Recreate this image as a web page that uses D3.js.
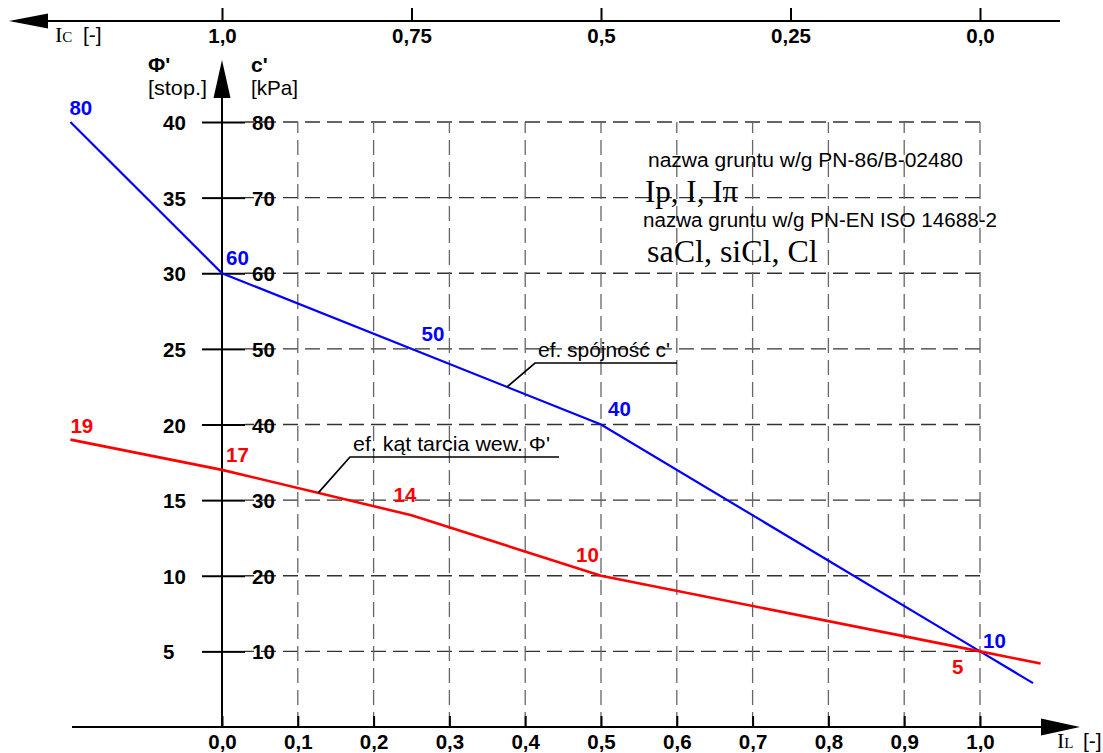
<!DOCTYPE html>
<html>
<head>
<meta charset="utf-8">
<script src="https://cdn.jsdelivr.net/npm/d3@7"></script>
<style>
  body { margin: 0; background: #fff; }
  text { font-family: "Liberation Sans", Arial, sans-serif; }
</style>
</head>
<body>
<svg id="chart" width="1103" height="753"></svg>
<script>
// ---- data ----
var IL_TICKS = [0, 0.1, 0.2, 0.3, 0.4, 0.5, 0.6, 0.7, 0.8, 0.9, 1.0];
var IL_TICK_LABELS = ["0,0", "0,1", "0,2", "0,3", "0,4", "0,5", "0,6", "0,7", "0,8", "0,9", "1,0"];
var IC_TICKS = [1, 0.75, 0.5, 0.25, 0];
var IC_TICK_LABELS = ["1,0", "0,75", "0,5", "0,25", "0,0"];
var PHI_TICKS = [5, 10, 15, 20, 25, 30, 35, 40];
var C_TICKS = [10, 20, 30, 40, 50, 60, 70, 80];

// effective cohesion c' [kPa] vs IL
var C_IL = [-0.2, 0, 0.5, 1.0, 1.07];
var C_VALUES = [80, 60, 40, 10, 5.8];
var C_LABEL_IL = [-0.2, 0, 0.25, 0.5, 1.0];
var C_LABELS = [80, 60, 50, 40, 10];

// effective friction angle phi' [deg] vs IL
var PHI_IL = [-0.2, 0, 0.25, 0.5, 1.0, 1.08];
var PHI_VALUES = [19, 17, 14, 10, 5, 4.2];
var PHI_LABEL_IL = [-0.2, 0, 0.25, 0.5, 1.0];
var PHI_LABELS = [19, 17, 14, 10, 5];

var SOIL_NAMES = ["nazwa gruntu w/g PN-86/B-02480", "Ip, I, I\u03c0",
                  "nazwa gruntu w/g PN-EN ISO 14688-2", "saCl, siCl, Cl"];

var BLUE = "#0000ff", RED = "#ff0000";

var svg = d3.select("#chart");

var x = d3.scaleLinear().domain([0, 1]).range([222, 980]);
var ic = d3.scaleLinear().domain([1, 0]).range([222, 980]);
var yPhi = d3.scaleLinear().domain([0, 40]).range([727, 122]);
var yC = d3.scaleLinear().domain([0, 80]).range([727, 122]);
var y0 = yPhi(0);

function styleAxis(g) {
  g.select(".domain").remove();
  g.selectAll(".tick line").attr("stroke", "#000").attr("stroke-width", 2);
  g.selectAll(".tick text")
    .attr("fill", "#000")
    .style("font-size", "20.5px")
    .style("font-weight", "bold")
    .style("font-family", "'Liberation Sans', Arial, sans-serif");
}

// grid
var grid = svg.append("g").attr("fill", "none").attr("stroke-width", 1.3)
  .attr("stroke-dasharray", "15,7");
grid.selectAll(".gh").data(C_TICKS).enter().append("line")
  .attr("stroke", "#333")
  .attr("x1", x(1)).attr("x2", x(0) + 23)
  .attr("y1", function(d) { return yC(d); }).attr("y2", function(d) { return yC(d); });
grid.selectAll(".gv").data(IL_TICKS.slice(1)).enter().append("line")
  .attr("stroke", "#666")
  .attr("x1", function(d) { return x(d); }).attr("x2", function(d) { return x(d); })
  .attr("y1", y0).attr("y2", yC(80));

// bottom IL axis
svg.append("g").attr("transform", "translate(0," + y0 + ")")
  .call(d3.axisBottom(x).tickValues(IL_TICKS)
    .tickFormat(function(d, i) { return IL_TICK_LABELS[i]; })
    .tickSizeInner(-11).tickSizeOuter(0).tickPadding(7))
  .call(styleAxis);
svg.append("line").attr("x1", 72).attr("x2", 1045).attr("y1", y0).attr("y2", y0)
  .attr("stroke", "#000").attr("stroke-width", 2);
svg.append("path").attr("d", "M1041," + (y0 - 8.5) + "L1080," + y0 + "L1041," + (y0 + 8.5) + "Z");

// top IC axis
var topY = 21;
svg.append("g").attr("transform", "translate(0," + topY + ")")
  .call(d3.axisBottom(ic).tickValues(IC_TICKS)
    .tickFormat(function(d, i) { return IC_TICK_LABELS[i]; })
    .tickSizeInner(-13).tickSizeOuter(0).tickPadding(7))
  .call(styleAxis);
svg.append("line").attr("x1", 44).attr("x2", 1060).attr("y1", topY).attr("y2", topY)
  .attr("stroke", "#000").attr("stroke-width", 2);
svg.append("path").attr("d", "M48," + (topY - 7.5) + "L9," + topY + "L48," + (topY + 7.5) + "Z");

// vertical axis carrying both scales
svg.append("line").attr("x1", x(0)).attr("x2", x(0)).attr("y1", 94).attr("y2", y0)
  .attr("stroke", "#000").attr("stroke-width", 2);
svg.append("path").attr("d", "M" + (x(0) - 8.5) + ",98L" + x(0) + ",60L" + (x(0) + 8.5) + ",98Z");

svg.append("g").attr("transform", "translate(" + x(0) + ",0)")
  .call(d3.axisLeft(yPhi).tickValues(PHI_TICKS).tickSize(20).tickSizeOuter(0))
  .call(styleAxis)
  .call(function(g) {
    g.selectAll(".tick text").attr("x", -59).attr("dy", "0.37em").attr("text-anchor", "start");
  });
svg.append("g").attr("transform", "translate(" + x(0) + ",0)")
  .call(d3.axisRight(yC).tickValues(C_TICKS).tickSize(23).tickSizeOuter(0))
  .call(styleAxis)
  .call(function(g) {
    g.selectAll(".tick text").attr("x", 30).attr("dy", "0.37em").attr("text-anchor", "start");
  });

// axis titles
var titles = svg.append("g").style("font-size", "21px").attr("fill", "#000");
titles.append("text").attr("x", 148).attr("y", 72).style("font-weight", "bold").text("\u03a6'");
titles.append("text").attr("x", 148).attr("y", 95).attr("textLength", 59)
  .attr("lengthAdjust", "spacingAndGlyphs").text("[stop.]");
titles.append("text").attr("x", 251).attr("y", 72).style("font-weight", "bold").text("c'");
titles.append("text").attr("x", 251).attr("y", 95).attr("textLength", 47)
  .attr("lengthAdjust", "spacingAndGlyphs").text("[kPa]");

function indexLabel(xPos, yPos, sub, xBracket) {
  var t = svg.append("text").attr("x", xPos).attr("y", yPos).attr("fill", "#000");
  t.append("tspan").style("font-family", "'Liberation Serif', 'Times New Roman', serif")
    .style("font-size", "22px").text("I");
  t.append("tspan").style("font-family", "'Liberation Serif', 'Times New Roman', serif")
    .style("font-size", "15px").text(sub);
  t.append("tspan").attr("x", xBracket).style("font-size", "21px").text("[-]");
}
indexLabel(55, 42, "C", 83);
indexLabel(1057, 748, "L", 1083);

// curves
var line = d3.line();
svg.append("path")
  .attr("d", line(C_IL.map(function(d, i) { return [x(d), yC(C_VALUES[i])]; })))
  .attr("fill", "none").attr("stroke", BLUE).attr("stroke-width", 2.2);
svg.append("path")
  .attr("d", line(PHI_IL.map(function(d, i) { return [x(d), yPhi(PHI_VALUES[i])]; })))
  .attr("fill", "none").attr("stroke", RED).attr("stroke-width", 2.6);

// value labels on curves
var cOffsets = [[-1, -7], [4, -8], [10, -8], [7, -9], [3, -3]];
var phiOffsets = [[0, -7], [4, -8], [-18, -13], [-25, -14], [-28, 23]];
svg.append("g").selectAll("text").data(C_LABELS).enter().append("text")
  .attr("x", function(d, i) { return x(C_LABEL_IL[i]) + cOffsets[i][0]; })
  .attr("y", function(d, i) { return yC(d) + cOffsets[i][1]; })
  .attr("fill", BLUE).style("font-size", "20.5px").style("font-weight", "bold")
  .text(function(d) { return d; });
svg.append("g").selectAll("text").data(PHI_LABELS).enter().append("text")
  .attr("x", function(d, i) { return x(PHI_LABEL_IL[i]) + phiOffsets[i][0]; })
  .attr("y", function(d, i) { return yPhi(d) + phiOffsets[i][1]; })
  .attr("fill", RED).style("font-size", "20.5px").style("font-weight", "bold")
  .text(function(d) { return d; });

// leader annotations
function leader(px, py, ex, ey, endX, label, len) {
  svg.append("path").attr("d", "M" + px + "," + py + "L" + ex + "," + ey + "L" + endX + "," + ey)
    .attr("fill", "none").attr("stroke", "#000").attr("stroke-width", 1.7);
  svg.append("text").attr("x", ex + 3).attr("y", ey - 6).attr("fill", "#000")
    .attr("textLength", len).attr("lengthAdjust", "spacingAndGlyphs")
    .style("font-size", "21px").text(label);
}
var cAt = d3.scaleLinear().domain(C_IL).range(C_VALUES);
var phiAt = d3.scaleLinear().domain(PHI_IL).range(PHI_VALUES);
leader(x(0.376), yC(cAt(0.376)), 535, 363, 677, "ef. sp\u00f3jno\u015b\u0107 c'", 132);
leader(x(0.127), yPhi(phiAt(0.127)), 350, 457, 559, "ef. k\u0105t tarcia wew. \u03a6'", 197);

// soil names
var names = svg.append("g").attr("fill", "#000");
names.append("text").attr("x", 648).attr("y", 167).style("font-size", "20px")
  .attr("textLength", 315).attr("lengthAdjust", "spacingAndGlyphs").text(SOIL_NAMES[0]);
names.append("text").attr("x", 645).attr("y", 202).style("font-size", "31px")
  .style("font-family", "'Liberation Serif', 'Times New Roman', serif").text(SOIL_NAMES[1]);
names.append("text").attr("x", 643).attr("y", 227).style("font-size", "20px")
  .attr("textLength", 354).attr("lengthAdjust", "spacingAndGlyphs").text(SOIL_NAMES[2]);
names.append("text").attr("x", 647).attr("y", 262).style("font-size", "32px")
  .style("font-family", "'Liberation Serif', 'Times New Roman', serif").text(SOIL_NAMES[3]);
</script>
</body>
</html>
